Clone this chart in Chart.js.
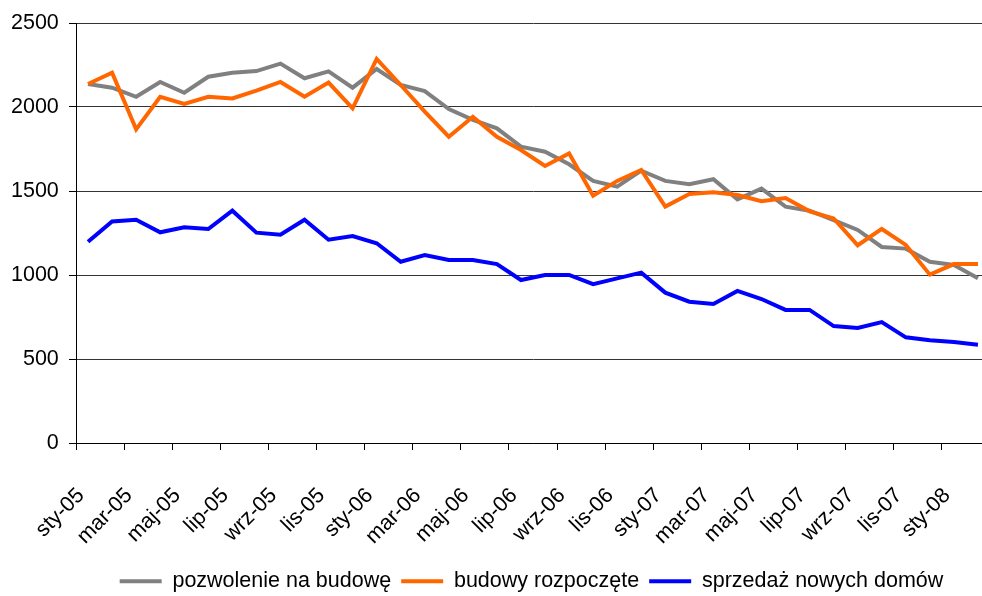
<!DOCTYPE html>
<html>
<head>
<meta charset="utf-8">
<script src="https://cdn.jsdelivr.net/npm/chart.js@4/dist/chart.umd.min.js"></script>
<style>
  html, body { margin: 0; padding: 0; overflow: hidden; background: #fff; }
  #wrap { width: 1063px; height: 596px; }
</style>
</head>
<body>
<div id="wrap"><canvas id="chart" width="1063" height="596"></canvas></div>
<script>
'use strict';
// miesiace sty-05 .. lut-08
var categories = [
  'sty-05','lut-05','mar-05','kwi-05','maj-05','cze-05','lip-05','sie-05','wrz-05','paź-05','lis-05','gru-05',
  'sty-06','lut-06','mar-06','kwi-06','maj-06','cze-06','lip-06','sie-06','wrz-06','paź-06','lis-06','gru-06',
  'sty-07','lut-07','mar-07','kwi-07','maj-07','cze-07','lip-07','sie-07','wrz-07','paź-07','lis-07','gru-07',
  'sty-08','lut-08'
];
var seriesNames = ['pozwolenie na budowę', 'budowy rozpoczęte', 'sprzedaż nowych domów'];

var permits = [
  2137, 2115, 2061, 2149, 2085, 2180, 2204, 2214, 2258, 2171, 2212, 2115,
  2226, 2131, 2095, 1988, 1923, 1873, 1764, 1734, 1659, 1560, 1526, 1621,
  1560, 1540, 1570, 1450, 1514, 1407, 1383, 1327, 1268, 1167, 1157, 1079,
  1060, 980
];
var starts = [
  2137, 2204, 1867, 2061, 2018, 2061, 2051, 2097, 2149, 2061, 2145, 1992,
  2286, 2131, 1972, 1823, 1942, 1823, 1744, 1649, 1724, 1472, 1560, 1625,
  1407, 1482, 1492, 1476, 1439, 1458, 1379, 1337, 1177, 1274, 1179, 1002,
  1065, 1065
];
var sales = [
  1198, 1319, 1329, 1254, 1284, 1274, 1383, 1252, 1240, 1329, 1210, 1232,
  1189, 1079, 1119, 1089, 1089, 1065, 970, 1000, 1000, 946, 980, 1014,
  895, 841, 827, 905, 857, 792, 792, 696, 685, 720, 629, 611,
  601, 585
];
var colors = ['#808080', '#FF6600', '#0000FF'];

var font = { family: '"Liberation Sans", Arial, sans-serif', size: 21.5 };

function makeSet(i, values) {
  return {
    label: seriesNames[i],
    data: values,
    borderColor: colors[i],
    backgroundColor: colors[i],
    borderWidth: 4,
    pointRadius: 0,
    tension: 0,
    order: 3 - i
  };
}

new Chart(document.getElementById('chart'), {
  type: 'line',
  data: {
    labels: categories,
    datasets: [makeSet(0, permits), makeSet(1, starts), makeSet(2, sales)]
  },
  options: {
    responsive: false,
    animation: false,
    // legenda wysrodkowana jak w oryginale, os Y rysowana w lewym marginesie
    layout: { padding: { top: 23, left: 73, right: 73, bottom: -6 } },
    plugins: {
      tooltip: { enabled: false },
      legend: {
        position: 'bottom',
        labels: {
          usePointStyle: true,
          pointStyle: 'line',
          pointStyleWidth: 42,
          padding: 10,
          color: '#000',
          font: font,
          sort: function (a, b) { return a.datasetIndex - b.datasetIndex; }
        }
      }
    },
    scales: {
      x: {
        offset: true,
        border: { color: '#000', width: 1 },
        grid: {
          offset: true,
          drawOnChartArea: false,
          tickLength: 7,
          tickColor: function (ctx) { return ctx.index % 2 === 0 ? '#000' : 'rgba(0,0,0,0)'; }
        },
        ticks: {
          autoSkip: false,
          maxRotation: 45,
          minRotation: 45,
          padding: 33,
          labelOffset: -7,
          color: '#000',
          font: font,
          callback: function (v, i) { return i % 2 === 0 ? categories[i] : ''; }
        },
        afterFit: function (scale) {
          scale.height = 117.5;
          scale.paddingLeft = 0;
          scale.paddingRight = 0;
        }
      },
      y: {
        min: 0,
        max: 2500,
        border: { color: '#000', width: 1 },
        grid: { color: '#333', tickLength: 7, tickColor: '#000' },
        ticks: {
          stepSize: 500,
          mirror: true,
          crossAlign: 'far',
          padding: -65,
          color: '#000',
          font: font,
          callback: function (v) { return String(v); }
        },
        afterFit: function (scale) {
          scale.width = 3;
        }
      }
    }
  }
});
</script>
</body>
</html>
